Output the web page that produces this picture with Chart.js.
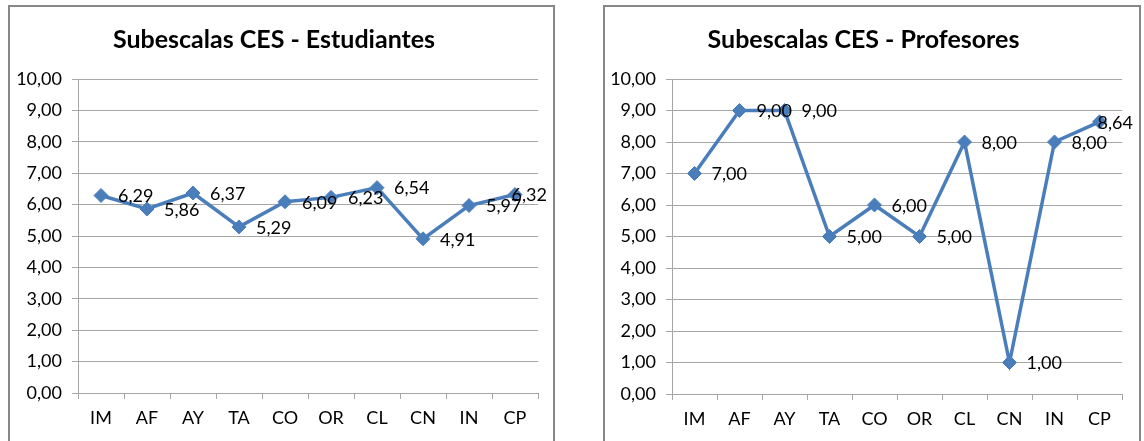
<!DOCTYPE html>
<html>
<head>
<meta charset="utf-8">
<script src="https://cdn.jsdelivr.net/npm/chart.js@4.4.0/dist/chart.umd.min.js"></script>
<style>
  body { margin: 0; background: #fff; width: 1144px; height: 441px; overflow: hidden; position: relative; }
  .caja { position: absolute; top: 5px; border: 2px solid #878787; height: 450px; background: #fff; }
  #caja1 { left: 8px; width: 543px; }
  #caja2 { left: 603px; width: 534px; }
  canvas { display: block; }
</style>
</head>
<body>
<div class="caja" id="caja1"><canvas id="g1" width="543" height="446"></canvas></div>
<div class="caja" id="caja2"><canvas id="g2" width="534" height="446"></canvas></div>
<script>
// datos
var categorias = ['IM', 'AF', 'AY', 'TA', 'CO', 'OR', 'CL', 'CN', 'IN', 'CP'];
var estudiantes = [6.29, 5.86, 6.37, 5.29, 6.09, 6.23, 6.54, 4.91, 5.97, 6.32];
var profesores = [7.00, 9.00, 9.00, 5.00, 6.00, 5.00, 8.00, 1.00, 8.00, 8.64];
var yMin = 0, yMax = 10, yPaso = 1;

var azul = '#4A7EBB';
var gris = '#a6a6a6';
var fuente = 'Lato';

function formato(v) {
	return Number(v).toFixed(2).replace('.', ',');
}

// etiquetas de valor a la derecha de cada punto (como en Excel, se meten dentro del borde)
var etiquetas = {
	id: 'etiquetas',
	afterDatasetsDraw: function(chart) {
		var ctx = chart.ctx;
		var meta = chart.getDatasetMeta(0);
		var datos = chart.data.datasets[0].data;
		ctx.save();
		ctx.font = '18px ' + fuente;
		ctx.fillStyle = '#000';
		ctx.textAlign = 'left';
		ctx.textBaseline = 'middle';
		meta.data.forEach(function(p, i) {
			var txt = formato(datos[i]);
			var w = ctx.measureText(txt).width;
			var x = Math.min(p.x + 17, chart.width - 6 - w);
			ctx.fillText(txt, x, p.y + 1);
		});
		ctx.restore();
	}
};

function pintaGrafica(id, titulo, datos, ancho, alto, derecha) {
	var ctx = document.getElementById(id).getContext('2d');
	new Chart(ctx, {
		type: 'line',
		data: {
			labels: categorias,
			datasets: [{
				label: titulo,
				data: datos,
				borderColor: azul,
				backgroundColor: azul,
				borderWidth: 3.5,
				pointStyle: 'rectRot',
				pointRadius: 7,
				pointBorderWidth: 1,
				fill: false,
				tension: 0
			}]
		},
		options: {
			responsive: false,
			animation: false,
			layout: { padding: { left: 0, right: derecha, top: 0, bottom: 0 } },
			plugins: {
				legend: { display: false },
				tooltip: { enabled: false },
				title: {
					display: true,
					text: titulo,
					color: '#000',
					font: { family: fuente, size: 25, weight: 'bold' },
					padding: { top: 18, bottom: 24 }
				}
			},
			scales: {
				x: {
					offset: true,
					grid: { drawOnChartArea: false, drawTicks: true, tickLength: 6, color: gris, offset: true },
					border: { color: gris },
					ticks: { color: '#000', font: { family: fuente, size: 18 }, padding: 8, maxRotation: 0 },
					afterFit: function(s) { s.height = alto; }
				},
				y: {
					min: yMin,
					max: yMax,
					grid: { color: gris, tickLength: 6 },
					border: { color: gris },
					ticks: {
						stepSize: yPaso,
						color: '#000',
						font: { family: fuente, size: 18 },
						padding: 10,
						callback: function(v) { return formato(v); }
					},
					afterFit: function(s) { s.width = ancho; }
				}
			}
		},
		plugins: [etiquetas]
	});
}

pintaGrafica('g1', 'Subescalas CES - Estudiantes', estudiantes, 68, 60, 15);
pintaGrafica('g2', 'Subescalas CES - Profesores', profesores, 67, 59, 17);
</script>
</body>
</html>
